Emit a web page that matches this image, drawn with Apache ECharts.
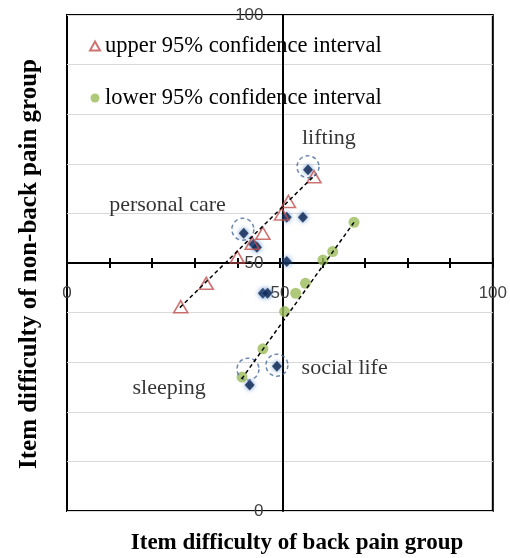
<!DOCTYPE html>
<html>
<head>
<meta charset="utf-8">
<script src="https://cdn.jsdelivr.net/npm/echarts@6/dist/echarts.min.js"></script>
<style>
html,body{margin:0;padding:0;background:#fff;}
#chart{width:510px;height:558px;}
</style>
</head>
<body>
<div id="chart"></div>
<script>
// ---- data ----
const upperName = 'upper 95% confidence interval';
const lowerName = 'lower 95% confidence interval';
const upperX = [26.7, 32.7, 40.0, 43.5, 46.0, 50.4, 52.0, 58.0];
const upperY = [41.2, 45.9, 51.2, 54.0, 56.0, 59.9, 62.4, 67.4];
const lowerX = [41.1, 46.0, 51.1, 53.7, 56.0, 60.1, 62.4, 67.4];
const lowerY = [27.0, 32.7, 40.2, 43.9, 45.9, 50.6, 52.3, 58.2];
const itemX = [56.6, 51.6, 55.4, 51.6, 41.5, 43.8, 44.6, 46.0, 47.1, 49.3, 42.9];
const itemY = [68.8, 59.2, 59.2, 50.3, 56.0, 53.8, 53.2, 43.9, 43.9, 29.2, 25.4];
const ringX = [56.6, 41.3, 49.3, 42.5];
const ringY = [69.4, 56.8, 29.4, 28.6];
const upperTrendX = [26.5, 58.3];
const upperTrendY = [41.0, 67.8];
const lowerTrendX = [41.0, 67.4];
const lowerTrendY = [26.6, 58.2];
const noteNames = ['lifting', 'personal care', 'social life', 'sleeping'];
const noteX = [61.5, 23.6, 65.2, 24.0];
const noteY = [75.2, 61.7, 28.8, 24.8];
const axisMin = 0, axisMax = 100, axisStep = 10, labelStep = 50;
const xTitle = 'Item difficulty of back pain group';
const yTitle = 'Item difficulty of non-back pain group';

const zip = (a, b) => a.map((v, i) => [v, b[i]]);
const serif = '"Liberation Serif", "DejaVu Serif", serif';
const sans = '"Liberation Sans", Arial, sans-serif';
const fmt = v => (v % labelStep === 0 ? String(v) : '');

const chart = echarts.init(document.getElementById('chart'), null, {renderer: 'canvas'});
chart.setOption({
  animation: false,
  backgroundColor: '#fff',
  grid: {left: 67, top: 15, width: 431, height: 496, show: true, borderColor: '#000', borderWidth: 2, backgroundColor: 'transparent'},
  legend: {
    orient: 'vertical', left: 84, top: 29, itemGap: 28, itemWidth: 10, itemHeight: 9,
    textStyle: {fontFamily: serif, fontSize: 22.5, color: '#000', lineHeight: 24},
    data: [{name: upperName, icon: 'triangle'}, {name: lowerName, icon: 'circle'}]
  },
  xAxis: [{
    type: 'value', min: axisMin, max: axisMax, interval: axisStep, position: 'bottom', offset: -248,
    axisLine: {show: true, onZero: false, lineStyle: {color: '#000', width: 2}},
    axisTick: {show: true, length: 5, lineStyle: {color: '#000', width: 2}},
    axisLabel: {show: true, margin: 22, formatter: fmt, fontFamily: sans, fontSize: 17, color: '#404040', showMinLabel: true, showMaxLabel: true},
    splitLine: {show: false}
  }, {
    type: 'value', min: axisMin, max: axisMax, interval: axisStep, position: 'bottom', offset: -248,
    axisLine: {show: false, onZero: false},
    axisTick: {show: true, inside: true, length: 5, lineStyle: {color: '#000', width: 2}},
    axisLabel: {show: false},
    splitLine: {show: false}
  }],
  yAxis: [{
    type: 'value', min: axisMin, max: axisMax, interval: axisStep, position: 'left', offset: -215.5,
    axisLine: {show: true, onZero: false, lineStyle: {color: '#000', width: 2}},
    axisTick: {show: false},
    axisLabel: {show: true, margin: 19, formatter: fmt, fontFamily: sans, fontSize: 17, color: '#404040', showMinLabel: true, showMaxLabel: true},
    splitLine: {show: true, lineStyle: {color: '#d9d9d9', width: 1}}
  }],
  graphic: [
    {type: 'text', x: 297, y: 543, style: {text: xTitle, font: 'bold 23px ' + serif, fill: '#000', textAlign: 'center', textVerticalAlign: 'middle'}},
    {type: 'text', x: 30, y: 264, rotation: Math.PI / 2, style: {text: yTitle, font: 'bold 25px ' + serif, fill: '#000', textAlign: 'center', textVerticalAlign: 'middle'}}
  ],
  series: [
    {
      name: 'items', type: 'scatter', z: 3, data: zip(itemX, itemY),
      symbol: 'diamond', symbolSize: [10, 11],
      itemStyle: {color: '#0c2450', shadowBlur: 5, shadowColor: '#4a82c8'}
    },
    {
      name: upperName, type: 'scatter', z: 4, data: zip(upperX, upperY),
      symbol: 'triangle', symbolSize: [14, 12],
      itemStyle: {color: 'rgba(255,255,255,0)', borderColor: '#c0504d', borderWidth: 1.6}
    },
    {
      name: lowerName, type: 'scatter', z: 4, data: zip(lowerX, lowerY),
      symbol: 'circle', symbolSize: 11,
      itemStyle: {color: '#9bbb59'}
    },
    {
      name: 'rings', type: 'scatter', z: 5, data: zip(ringX, ringY),
      symbol: 'circle', symbolSize: 22,
      itemStyle: {color: 'rgba(0,0,0,0)', borderColor: '#4a6a9c', borderWidth: 1.5, borderType: [4, 3]}
    },
    {
      name: 'upperTrend', type: 'line', z: 6, data: zip(upperTrendX, upperTrendY), showSymbol: false, symbol: 'none',
      lineStyle: {color: '#000', width: 1.5, type: [4, 3]}
    },
    {
      name: 'lowerTrend', type: 'line', z: 6, data: zip(lowerTrendX, lowerTrendY), showSymbol: false, symbol: 'none',
      lineStyle: {color: '#000', width: 1.5, type: [4, 3]}
    },
    {
      name: 'notes', type: 'scatter', z: 7, symbolSize: 1,
      data: noteNames.map((n, i) => ({name: n, value: [noteX[i], noteY[i]]})),
      itemStyle: {color: 'rgba(0,0,0,0)'},
      label: {show: true, position: 'inside', formatter: p => p.name, fontFamily: serif, fontSize: 22, color: '#000'}
    }
  ]
});
</script>
</body>
</html>
